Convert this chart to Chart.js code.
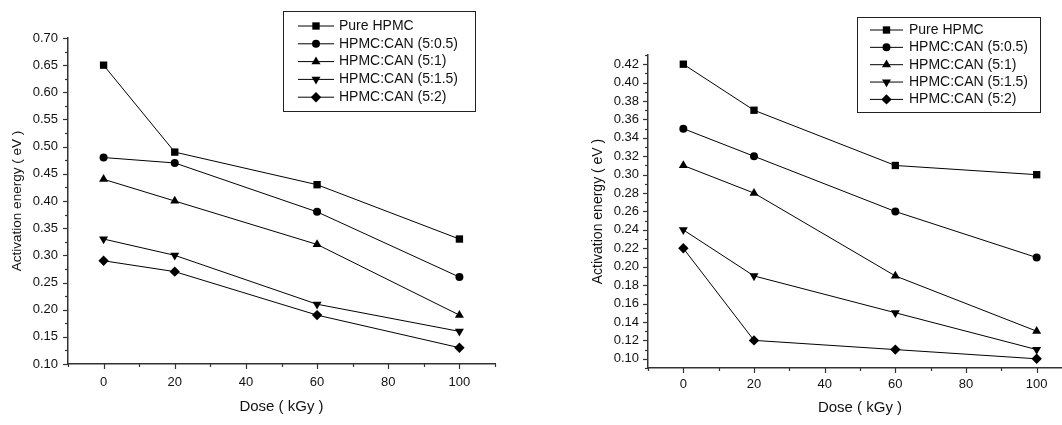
<!DOCTYPE html>
<html>
<head>
<meta charset="utf-8">
<script src="https://cdn.jsdelivr.net/npm/chart.js@4.4.1/dist/chart.umd.min.js"></script>
<style>
  html, body { margin: 0; padding: 0; background: #fff; overflow: hidden; width: 1062px; height: 425px; }
  .panel { position: absolute; top: 0; height: 425px; }
  #leftPanel { left: 0; width: 531px; }
  #rightPanel { left: 531px; width: 560px; }
</style>
</head>
<body>
<div class="panel" id="leftPanel"><canvas id="chartLeft" width="531" height="425"></canvas></div>
<div class="panel" id="rightPanel"><canvas id="chartRight" width="560" height="425"></canvas></div>
<script>
// Irradiation doses (kGy)
const doses = [0, 20, 60, 100];

const seriesNames = ['Pure HPMC', 'HPMC:CAN (5:0.5)', 'HPMC:CAN (5:1)', 'HPMC:CAN (5:1.5)', 'HPMC:CAN (5:2)'];

// Activation energy (eV), first panel
const leftPure   = [0.65, 0.49, 0.43, 0.33];
const left5_05   = [0.48, 0.47, 0.38, 0.26];
const left5_1    = [0.44, 0.40, 0.32, 0.19];
const left5_15   = [0.33, 0.30, 0.21, 0.16];
const left5_2    = [0.29, 0.27, 0.19, 0.13];

// Activation energy (eV), second panel
const rightPure  = [0.42, 0.37, 0.31, 0.30];
const right5_05  = [0.35, 0.32, 0.26, 0.21];
const right5_1   = [0.31, 0.28, 0.19, 0.13];
const right5_15  = [0.24, 0.19, 0.15, 0.11];
const right5_2   = [0.22, 0.12, 0.11, 0.10];

// Tick labels
const xTickValues = [0, 20, 40, 60, 80, 100];
const leftYTickValues = [0.10, 0.15, 0.20, 0.25, 0.30, 0.35, 0.40, 0.45, 0.50, 0.55, 0.60, 0.65, 0.70];
const rightYTickValues = [0.10, 0.12, 0.14, 0.16, 0.18, 0.20, 0.22, 0.24, 0.26, 0.28, 0.30, 0.32, 0.34, 0.36, 0.38, 0.40, 0.42];

// Marker shapes per series
const markers = [
  { pointStyle: 'rect', pointRadius: 5.2, pointRotation: 0 },
  { pointStyle: 'circle', pointRadius: 4, pointRotation: 0 },
  { pointStyle: 'triangle', pointRadius: 5.2, pointRotation: 0 },
  { pointStyle: 'triangle', pointRadius: 5.2, pointRotation: 180 },
  { pointStyle: 'rectRot', pointRadius: 5.2, pointRotation: 0 }
];

const FONT = '"Liberation Sans", Arial, sans-serif';
const INK = '#111';
const AXIS = '#333';

function buildDatasets(seriesList) {
  return seriesList.map((vals, i) => ({
    label: seriesNames[i],
    data: doses.map((d, j) => ({ x: d, y: vals[j] })),
    borderColor: '#000',
    backgroundColor: '#000',
    borderWidth: 1,
    pointBackgroundColor: '#000',
    pointBorderWidth: 0,
    pointStyle: markers[i].pointStyle,
    pointRadius: markers[i].pointRadius,
    pointRotation: markers[i].pointRotation,
    pointHoverRadius: markers[i].pointRadius,
    tension: 0,
    clip: false
  }));
}

// Boxed legend drawn inside the plot
const boxedLegend = {
  id: 'boxedLegend',
  afterDraw(chart, args, o) {
    const ctx = chart.ctx;
    ctx.save();
    ctx.strokeStyle = '#222';
    ctx.lineWidth = 1;
    ctx.strokeRect(o.x + 0.5, o.y + 0.5, o.w, o.h);
    ctx.font = '14px ' + FONT;
    ctx.textBaseline = 'middle';
    ctx.textAlign = 'left';
    chart.data.datasets.forEach((ds, i) => {
      const y = o.rowY0 + i * o.rowGap;
      ctx.beginPath();
      ctx.strokeStyle = '#000';
      ctx.lineWidth = 1;
      ctx.moveTo(o.lineX0, y);
      ctx.lineTo(o.lineX1, y);
      ctx.stroke();
      ctx.fillStyle = '#000';
      Chart.helpers.drawPoint(ctx, {
        pointStyle: ds.pointStyle,
        radius: ds.pointRadius,
        rotation: ds.pointRotation || 0,
        borderWidth: 0
      }, (o.lineX0 + o.lineX1) / 2, y);
      ctx.fillStyle = INK;
      ctx.fillText(ds.label, o.textX, y);
    });
    ctx.restore();
  }
};

// Outward major and minor tick marks on both axes
const axisTicks = {
  id: 'axisTicks',
  afterDraw(chart, args, o) {
    const ctx = chart.ctx;
    const xs = chart.scales.x, ys = chart.scales.y;
    ctx.save();
    ctx.strokeStyle = AXIS;
    ctx.lineWidth = 1.2;
    const nx = Math.round((xs.max - xs.min) / o.xMinor);
    for (let i = 0; i <= nx; i++) {
      const v = xs.min + i * o.xMinor;
      const r = v / o.xMajor;
      const major = Math.abs(r - Math.round(r)) < 1e-6;
      const px = Math.round(xs.getPixelForValue(v)) + 0.5;
      ctx.beginPath();
      ctx.moveTo(px, xs.top);
      ctx.lineTo(px, xs.top + (major ? 5 : 3));
      ctx.stroke();
    }
    const ny = Math.round((ys.max - ys.min) / o.yMinor);
    for (let i = 0; i <= ny; i++) {
      const v = ys.min + i * o.yMinor;
      const r = v / o.yMajor;
      const major = Math.abs(r - Math.round(r)) < 1e-6;
      const py = Math.round(ys.getPixelForValue(v)) + 0.5;
      ctx.beginPath();
      ctx.moveTo(ys.right, py);
      ctx.lineTo(ys.right - (major ? 5 : 3), py);
      ctx.stroke();
    }
    ctx.restore();
  }
};

function makeChart(canvasId, seriesList, cfg) {
  return new Chart(document.getElementById(canvasId), {
    type: 'line',
    data: { datasets: buildDatasets(seriesList) },
    plugins: [axisTicks, boxedLegend],
    options: {
      responsive: false,
      animation: false,
      devicePixelRatio: 1,
      layout: { padding: cfg.padding },
      plugins: {
        legend: { display: false },
        tooltip: { enabled: false },
        axisTicks: cfg.ticks,
        boxedLegend: cfg.legend
      },
      scales: {
        x: {
          type: 'linear',
          min: -10,
          max: 110,
          afterBuildTicks: s => { s.ticks = xTickValues.map(v => ({ value: v })); },
          afterFit: s => { s.height = cfg.xHeight; },
          grid: { display: false, drawTicks: false },
          border: { display: true, color: AXIS, width: 1.5 },
          ticks: {
            color: INK,
            font: { family: FONT, size: 13 },
            padding: cfg.xPad,
            maxRotation: 0,
            autoSkip: false,
            callback: v => String(v)
          },
          title: {
            display: true,
            text: 'Dose ( kGy )',
            color: INK,
            font: { family: FONT, size: 15 },
            padding: { top: 0, bottom: cfg.xTitlePad }
          }
        },
        y: {
          type: 'linear',
          min: cfg.yMin,
          max: cfg.yMax,
          afterBuildTicks: s => { s.ticks = cfg.yTicks.map(v => ({ value: v })); },
          afterFit: s => { s.width = cfg.yWidth; },
          grid: { display: false, drawTicks: false },
          border: { display: true, color: AXIS, width: 1.5 },
          ticks: {
            color: INK,
            font: { family: FONT, size: 13 },
            padding: cfg.yPad,
            autoSkip: false,
            callback: v => Number(v).toFixed(2)
          },
          title: {
            display: true,
            text: 'Activation energy ( eV )',
            color: INK,
            font: { family: FONT, size: cfg.yTitleSize },
            padding: { top: cfg.yTitlePad, bottom: 0 }
          }
        }
      }
    }
  });
}

makeChart('chartLeft', [leftPure, left5_05, left5_1, left5_15, left5_2], {
  padding: { left: 0, top: 38, right: 36, bottom: 0 },
  yWidth: 68, xHeight: 61,
  yMin: 0.10, yMax: 0.70, yTicks: leftYTickValues,
  xPad: 11, yPad: 10, xTitlePad: 9, yTitlePad: 9.5, yTitleSize: 13.5,
  ticks: { xMinor: 10, xMajor: 20, yMinor: 0.025, yMajor: 0.05 },
  legend: { x: 283, y: 11, w: 192, h: 100, rowY0: 26, rowGap: 17.8, lineX0: 298, lineX1: 334, textX: 339 }
});

makeChart('chartRight', [rightPure, right5_05, right5_1, right5_15, right5_2], {
  padding: { left: 52, top: 55, right: 19, bottom: 0 },
  yWidth: 65, xHeight: 57,
  yMin: 0.09, yMax: 0.43, yTicks: rightYTickValues,
  xPad: 8.5, yPad: 9, xTitlePad: 8, yTitlePad: 6.5, yTitleSize: 14,
  ticks: { xMinor: 10, xMajor: 20, yMinor: 0.01, yMajor: 0.02 },
  legend: { x: 326, y: 17, w: 183, h: 95, rowY0: 30, rowGap: 17.35, lineX0: 339, lineX1: 372, textX: 378 }
});
</script>
</body>
</html>
